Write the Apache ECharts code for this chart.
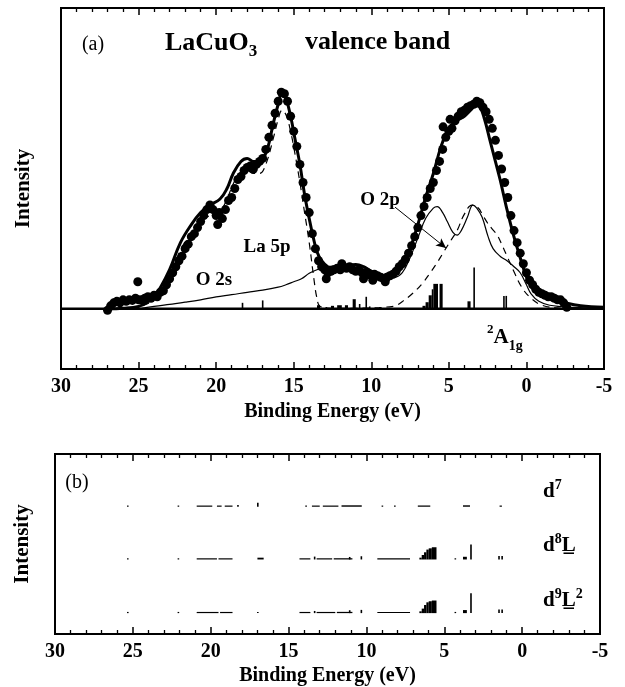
<!DOCTYPE html>
<html><head><meta charset="utf-8">
<script src="https://cdn.jsdelivr.net/npm/echarts@6/dist/echarts.min.js"></script>
<style>html,body{margin:0;padding:0;background:#fff}#c{width:625px;height:687px}</style>
</head><body><div id="c"></div>
<script>
// ---------------- data ----------------
const xTickValues = [30, 25, 20, 15, 10, 5, 0, -5];
const xTickLabels = ['30', '25', '20', '15', '10', '5', '0', '-5'];

// experimental points (binding energy eV, intensity)
const expData = [
 [27.0,-0.005],[26.8,0.01],[26.6,0.02],[26.4,0.025],[26.2,0.02],[26.0,0.03],[25.8,0.025],[25.6,0.03],[25.4,0.028],[25.2,0.035],
 [25.05,0.09],[25.0,0.03],[24.8,0.03],[24.6,0.035],[24.4,0.04],[24.2,0.035],[24.0,0.045],[23.8,0.04],[23.6,0.055],[23.4,0.06],
 [23.2,0.08],[23.0,0.1],[22.8,0.12],[22.6,0.14],[22.4,0.16],[22.2,0.175],[22.0,0.2],[21.8,0.215],[21.6,0.24],[21.4,0.25],
 [21.2,0.27],[21.0,0.29],[20.8,0.31],[20.6,0.33],[20.4,0.345],[20.2,0.33],[20.0,0.31],[19.9,0.28],[19.8,0.32],[19.6,0.3],
 [19.4,0.33],[19.2,0.36],[19.0,0.37],[18.8,0.4],[18.6,0.43],[18.4,0.44],[18.2,0.46],[18.0,0.47],[17.8,0.475],[17.6,0.465],
 [17.4,0.48],[17.2,0.49],[17.0,0.5],[16.8,0.53],[16.6,0.57],[16.4,0.61],[16.2,0.65],[16.0,0.69],[15.8,0.72],[15.6,0.715],
 [15.4,0.69],[15.2,0.64],[15.0,0.59],[14.8,0.54],[14.6,0.48],[14.4,0.42],[14.2,0.37],[14.0,0.32],[13.8,0.25],[13.6,0.2],
 [13.4,0.16],[13.2,0.14],[13.0,0.13],[12.9,0.1],[12.8,0.12],[12.6,0.125],[12.4,0.13],[12.2,0.135],[12.0,0.13],[11.9,0.15],
 [11.8,0.14],[11.6,0.135],[11.4,0.14],[11.2,0.13],[11.0,0.125],[10.8,0.13],[10.6,0.12],[10.5,0.1],[10.4,0.12],[10.2,0.115],
 [10.0,0.11],[9.9,0.095],[9.8,0.115],[9.6,0.11],[9.4,0.105],[9.2,0.1],[9.1,0.09],[9.0,0.105],[8.8,0.11],[8.6,0.115],
 [8.4,0.125],[8.2,0.14],[8.0,0.15],[7.8,0.165],[7.6,0.185],[7.4,0.21],[7.2,0.24],[7.0,0.27],[6.8,0.31],[6.6,0.34],
 [6.4,0.37],[6.2,0.4],[6.0,0.42],[5.8,0.46],[5.6,0.49],[5.4,0.53],[5.37,0.605],[5.2,0.57],[5.0,0.59],[4.92,0.63],
 [4.8,0.6],[4.6,0.625],[4.4,0.64],[4.2,0.655],[4.0,0.66],[3.8,0.67],[3.6,0.675],[3.4,0.68],[3.2,0.69],[3.0,0.685],
 [2.8,0.67],[2.6,0.655],[2.4,0.63],[2.2,0.6],[2.0,0.56],[1.8,0.51],[1.6,0.465],[1.4,0.42],[1.2,0.37],[1.0,0.31],
 [0.8,0.26],[0.6,0.22],[0.4,0.185],[0.2,0.15],[0.0,0.12],[-0.2,0.095],[-0.4,0.08],[-0.6,0.065],[-0.8,0.055],[-1.0,0.05],
 [-1.2,0.045],[-1.4,0.04],[-1.6,0.04],[-1.8,0.035],[-2.0,0.03],[-2.2,0.03],[-2.4,0.02],[-2.6,0.005]
];

// total calculated spectrum (thick solid)
const totalCurve = [
 [27,0],[26,0.002],[25,0.008],[24.5,0.02],[24,0.04],[23.6,0.07],[23,0.13],[22.3,0.22],[21.6,0.28],[21,0.32],
 [20.4,0.345],[19.75,0.365],[19.3,0.4],[18.9,0.45],[18.4,0.49],[18.0,0.5],[17.6,0.49],[17.3,0.49],[17.0,0.5],[16.7,0.53],
 [16.3,0.62],[16.0,0.68],[15.75,0.72],[15.5,0.7],[15.2,0.64],[14.9,0.56],[14.6,0.48],[14.3,0.38],[14.0,0.3],[13.75,0.24],
 [13.5,0.19],[13.2,0.16],[12.8,0.14],[12.3,0.135],[11.7,0.14],[11.0,0.147],[10.5,0.14],[10.0,0.125],[9.5,0.115],[9.0,0.11],
 [8.5,0.115],[8.0,0.14],[7.5,0.2],[7.0,0.28],[6.5,0.37],[6.0,0.45],[5.5,0.54],[5.0,0.6],[4.5,0.625],[4.0,0.64],
 [3.6,0.66],[3.3,0.675],[3.0,0.67],[2.7,0.63],[2.35,0.56],[2.0,0.49],[1.7,0.43],[1.3,0.34],[0.86,0.25],[0.4,0.17],
 [0,0.106],[-0.4,0.07],[-0.8,0.05],[-1.5,0.035],[-2.5,0.02],[-3.5,0.01],[-5,0.005]
];

// Cu 3d / O 2s contribution (thin solid)
const thinCurve = [
 [25,0],[24,0.008],[23,0.015],[22,0.022],[21,0.03],[20,0.04],[19,0.047],[18,0.055],[17,0.062],[16,0.072],
 [15.5,0.08],[15,0.09],[14.5,0.1],[14,0.118],[13.5,0.13],[13,0.138],[12.5,0.142],[12,0.145],[11.5,0.147],[11,0.147],
 [10.5,0.14],[10,0.128],[9.5,0.115],[9,0.105],[8.5,0.105],[8,0.12],[7.5,0.17],[7,0.235],[6.5,0.3],[6.0,0.335],
 [5.75,0.34],[5.4,0.32],[5.1,0.29],[4.75,0.255],[4.47,0.245],[4.2,0.26],[3.8,0.305],[3.45,0.345],[3.2,0.335],[2.86,0.305],
 [2.47,0.24],[2.15,0.2],[1.7,0.175],[1.25,0.16],[0.8,0.14],[0.4,0.12],[0,0.08],[-0.3,0.05],[-0.8,0.025],[-1.5,0.012],
 [-3,0.005],[-5,0.002]
];

// La 5p + O 2p contribution (dashed)
const dashCurve = [
 [25.5,0],[25,0.005],[24.5,0.015],[24,0.03],[23.6,0.055],[23,0.11],[22.3,0.195],[21.6,0.255],[21,0.29],[20.4,0.31],
 [19.75,0.325],[19.3,0.365],[18.9,0.415],[18.4,0.455],[18,0.46],[17.6,0.45],[17.2,0.45],[16.8,0.48],[16.3,0.57],[16,0.63],
 [15.75,0.66],[15.5,0.645],[15.2,0.59],[14.9,0.51],[14.6,0.42],[14.3,0.32],[14.0,0.22],[13.7,0.1],[13.5,0.035],[13.3,0.008],
 [12.5,0.002],[11,0.002],[10,0.003],[9.5,0.004],[9,0.006],[8.45,0.01],[7.9,0.028],[7.3,0.053],[6.7,0.085],[6.2,0.12],
 [5.8,0.15],[5.37,0.186],[4.9,0.225],[4.47,0.26],[4.0,0.315],[3.5,0.345],[3.1,0.335],[2.8,0.31],[2.5,0.285],[2.2,0.265],
 [1.89,0.246],[1.6,0.215],[1.25,0.175],[0.86,0.13],[0.28,0.07],[-0.3,0.035],[-1,0.012],[-2,0.003],[-3,0]
];

// stick spectrum in (a): [E from, E to, height]
const sticksA = [
 [18.3,18.3,0.02],[17.0,17.0,0.028],
 [13.5,13.3,0.012],[12.9,12.9,0.006],[12.6,12.4,0.01],[12.2,11.9,0.012],[11.7,11.5,0.012],[11.2,11.0,0.032],[10.8,10.7,0.016],
 [10.35,10.3,0.04],[10.1,10.1,0.008],
 [6.7,6.5,0.01],[6.5,6.3,0.022],[6.3,6.1,0.045],[6.1,6.0,0.065],[6.0,5.7,0.083],[5.6,5.4,0.083],
 [3.8,3.6,0.025],[3.37,3.37,0.137],
 [1.45,1.45,0.043],[1.3,1.3,0.043]
];

// (b) stick spectra per configuration: [E from, E to, height]
const rowNames = ['d7', 'd8L', 'd9L2'];
const sticksD7 = [
 [25.35,25.3,0.06],[22.1,22.05,0.06],[20.9,19.9,0.06],[19.6,19.3,0.06],[19.1,18.6,0.06],[18.3,18.2,0.1],[17.0,16.95,0.22],
 [13.9,13.85,0.06],[13.5,13.0,0.06],[12.8,11.8,0.06],[11.6,10.3,0.08],[9.0,8.95,0.06],[8.2,8.15,0.06],[6.7,5.9,0.07],
 [3.8,3.35,0.08],[1.45,1.3,0.05]
];
const sticksD8L = [
 [25.35,25.3,0.06],[22.1,22.05,0.06],[20.9,19.6,0.06],[19.5,18.6,0.05],[17.0,16.6,0.1],[14.3,13.6,0.05],[13.35,13.3,0.16],
 [13.2,12.2,0.06],[12.1,10.9,0.07],[11.1,11.05,0.14],[10.35,10.3,0.18],[9.3,7.2,0.04],[6.6,6.45,0.1],[6.45,6.3,0.25],
 [6.3,6.15,0.4],[6.15,6.0,0.55],[6.0,5.8,0.62],[5.8,5.5,0.68],[4.3,4.28,0.06],[3.8,3.55,0.15],[3.3,3.27,0.83],
 [1.5,1.47,0.2],[1.3,1.27,0.2]
];
const sticksD9L2 = [
 [25.35,25.3,0.06],[22.1,22.05,0.06],[20.9,19.5,0.06],[19.4,18.6,0.05],[17.0,16.95,0.05],[14.3,13.6,0.05],[13.35,13.3,0.12],
 [13.2,12.0,0.06],[11.9,10.9,0.07],[11.1,11.05,0.16],[10.35,10.3,0.18],[9.3,7.2,0.04],[6.6,6.45,0.1],[6.45,6.3,0.25],
 [6.3,6.15,0.45],[6.15,6.0,0.6],[6.0,5.8,0.66],[5.8,5.5,0.7],[4.3,4.28,0.06],[3.8,3.55,0.17],[3.3,3.27,1.1],
 [1.5,1.47,0.2],[1.3,1.27,0.2]
];
// vertical offsets of the three (b) spectra (in panel-b intensity units)
const rowOffsets = [7.07, 4.14, 1.16];

// O 2p arrow (E, I) start -> end
const arrowO2p = [[8.47, 0.338], [5.18, 0.202]];

// ---------------- chart ----------------
const SERIF = '"Liberation Serif", "Times New Roman", serif';
const chart = echarts.init(document.getElementById('c'));

function xAxisDef(grid, pos, showLabel) {
  return {
    type: 'value', gridIndex: grid, position: pos, min: -5, max: 30, interval: 5, inverse: true,
    axisLine: { show: true, onZero: false, lineStyle: { color: '#000', width: 2 } },
    axisTick: { show: true, inside: true, length: 7, lineStyle: { color: '#000', width: 1.5 } },
    minorTick: { show: true, splitNumber: 5, length: 4, lineStyle: { color: '#000', width: 1.3 } },
    splitLine: { show: false }, minorSplitLine: { show: false },
    axisLabel: {
      show: showLabel, margin: 8, color: '#000', fontFamily: SERIF, fontWeight: 'bold', fontSize: 20,
      formatter: v => { const i = xTickValues.indexOf(v); return i >= 0 ? xTickLabels[i] : ''; }
    },
    name: showLabel ? 'Binding Energy (eV)' : '', nameLocation: 'middle', nameGap: 32,
    nameTextStyle: { color: '#000', fontFamily: SERIF, fontWeight: 'bold', fontSize: 20 }
  };
}
function yAxisDef(grid, min, max, gap) {
  return {
    type: 'value', gridIndex: grid, min: min, max: max,
    axisLine: { show: true, onZero: false, lineStyle: { color: '#000', width: 2 } },
    axisTick: { show: false }, axisLabel: { show: false }, splitLine: { show: false },
    name: 'Intensity', nameLocation: 'middle', nameRotate: 90, nameGap: gap,
    nameTextStyle: { color: '#000', fontFamily: SERIF, fontWeight: 'bold', fontSize: 21 }
  };
}

function stickRenderer(offsets) {
  return function (params, api) {
    const e1 = api.value(0), e2 = api.value(1), h = api.value(2);
    const row = api.value(3);
    const base = offsets && !isNaN(row) ? offsets[row] : 0;
    const p1 = api.coord([e1, base]);
    const p2 = api.coord([e2, base + h]);
    let x = Math.min(p1[0], p2[0]);
    let w = Math.abs(p2[0] - p1[0]);
    if (w < 1.6) { x = (p1[0] + p2[0]) / 2 - 0.8; w = 1.6; }
    let hh = p1[1] - p2[1];
    if (hh < 1.2) hh = 1.2;
    return { type: 'rect', shape: { x: x, y: p1[1] - hh, width: w, height: hh }, style: { fill: '#000' } };
  };
}

const sticksB = [];
[sticksD7, sticksD8L, sticksD9L2].forEach((arr, r) => arr.forEach(s => sticksB.push([s[0], s[1], s[2], r])));

const txt = (x, y, rich, text, align) => ({
  type: 'text', x: x, y: y, z: 100,
  style: { text: text, rich: rich, align: align || 'left', verticalAlign: 'middle', fill: '#000' }
});
const R = (size, bold, extra) => Object.assign({ fontFamily: SERIF, fontSize: size, fontWeight: bold ? 'bold' : 'normal', color: '#000' }, extra || {});

const option = {
  backgroundColor: '#fff',
  animation: false,
  grid: [
    { left: 61, top: 8, width: 543, height: 361, show: true, borderColor: '#000', borderWidth: 2, backgroundColor: 'transparent' },
    { left: 55, top: 454, width: 545, height: 181, show: true, borderColor: '#000', borderWidth: 2, backgroundColor: 'transparent' }
  ],
  xAxis: [xAxisDef(0, 'bottom', true), xAxisDef(0, 'top', false), xAxisDef(1, 'bottom', true), xAxisDef(1, 'top', false)],
  yAxis: [yAxisDef(0, -0.2, 1.0, 27), yAxisDef(1, 0, 10, 22)],
  series: [
    { type: 'line', xAxisIndex: 0, yAxisIndex: 0, data: [[30, 0], [-5, 0]], symbol: 'none',
      lineStyle: { color: '#000', width: 2.5 }, silent: true },
    { type: 'custom', xAxisIndex: 0, yAxisIndex: 0, data: sticksA, renderItem: stickRenderer(null),
      encode: { x: [0, 1], y: 2 }, silent: true },
    { type: 'line', xAxisIndex: 0, yAxisIndex: 0, data: thinCurve, symbol: 'none', smooth: 0.4,
      lineStyle: { color: '#000', width: 1.2 } },
    { type: 'line', xAxisIndex: 0, yAxisIndex: 0, data: dashCurve, symbol: 'none', smooth: 0.4,
      lineStyle: { color: '#000', width: 1.2, type: [7, 5] } },
    { type: 'line', xAxisIndex: 0, yAxisIndex: 0, data: totalCurve, symbol: 'none', smooth: 0.4,
      lineStyle: { color: '#000', width: 3 } },
    { type: 'scatter', xAxisIndex: 0, yAxisIndex: 0, data: expData, symbol: 'circle', symbolSize: 9,
      itemStyle: { color: '#000', opacity: 1, borderWidth: 0 } },
    { type: 'line', xAxisIndex: 0, yAxisIndex: 0, data: [], symbol: 'none',
      markLine: { silent: true, symbol: ['none', 'arrow'], symbolSize: [7, 10], label: { show: false },
        lineStyle: { color: '#000', width: 1, type: 'solid' },
        data: [[{ coord: arrowO2p[0] }, { coord: arrowO2p[1] }]] } },
    { type: 'custom', xAxisIndex: 2, yAxisIndex: 1, data: sticksB, renderItem: stickRenderer(rowOffsets),
      encode: { x: [0, 1], y: 2 }, silent: true }
  ],
  graphic: [
    txt(93, 45, { a: R(20, false) }, '{a|(a)}', 'center'),
    txt(165, 43, { m: R(26, true, { lineHeight: 34 }), s: R(17, true, { verticalAlign: 'bottom', lineHeight: 17 }) }, '{m|LaCuO}{s|3}'),
    txt(305, 42, { m: R(26, true) }, '{m|valence band}'),
    txt(267, 247, { m: R(19, true) }, '{m|La 5p}', 'center'),
    txt(214, 280, { m: R(19, true) }, '{m|O 2s}', 'center'),
    txt(380, 200, { m: R(19, true) }, '{m|O 2p}', 'center'),
    txt(487, 338, { p: R(13, true, { verticalAlign: 'top', lineHeight: 13 }), m: R(21, true, { lineHeight: 30 }), s: R(14, true, { verticalAlign: 'bottom', lineHeight: 14 }) }, '{p|2}{m|A}{s|1g}'),
    txt(77, 483, { a: R(20, false) }, '{a|(b)}', 'center'),
    txt(543, 492, { m: R(21, true, { lineHeight: 28 }), p: R(14, true, { verticalAlign: 'top', lineHeight: 14 }) }, '{m|d}{p|7}'),
    txt(543, 546, { m: R(21, true, { lineHeight: 28 }), p: R(14, true, { verticalAlign: 'top', lineHeight: 14 }) }, '{m|d}{p|8}{m|L\u0332}'),
    txt(543, 601, { m: R(21, true, { lineHeight: 28 }), p: R(14, true, { verticalAlign: 'top', lineHeight: 14 }) }, '{m|d}{p|9}{m|L\u0332}{p|2}')
  ]
};
chart.setOption(option);
</script>
</body></html>
